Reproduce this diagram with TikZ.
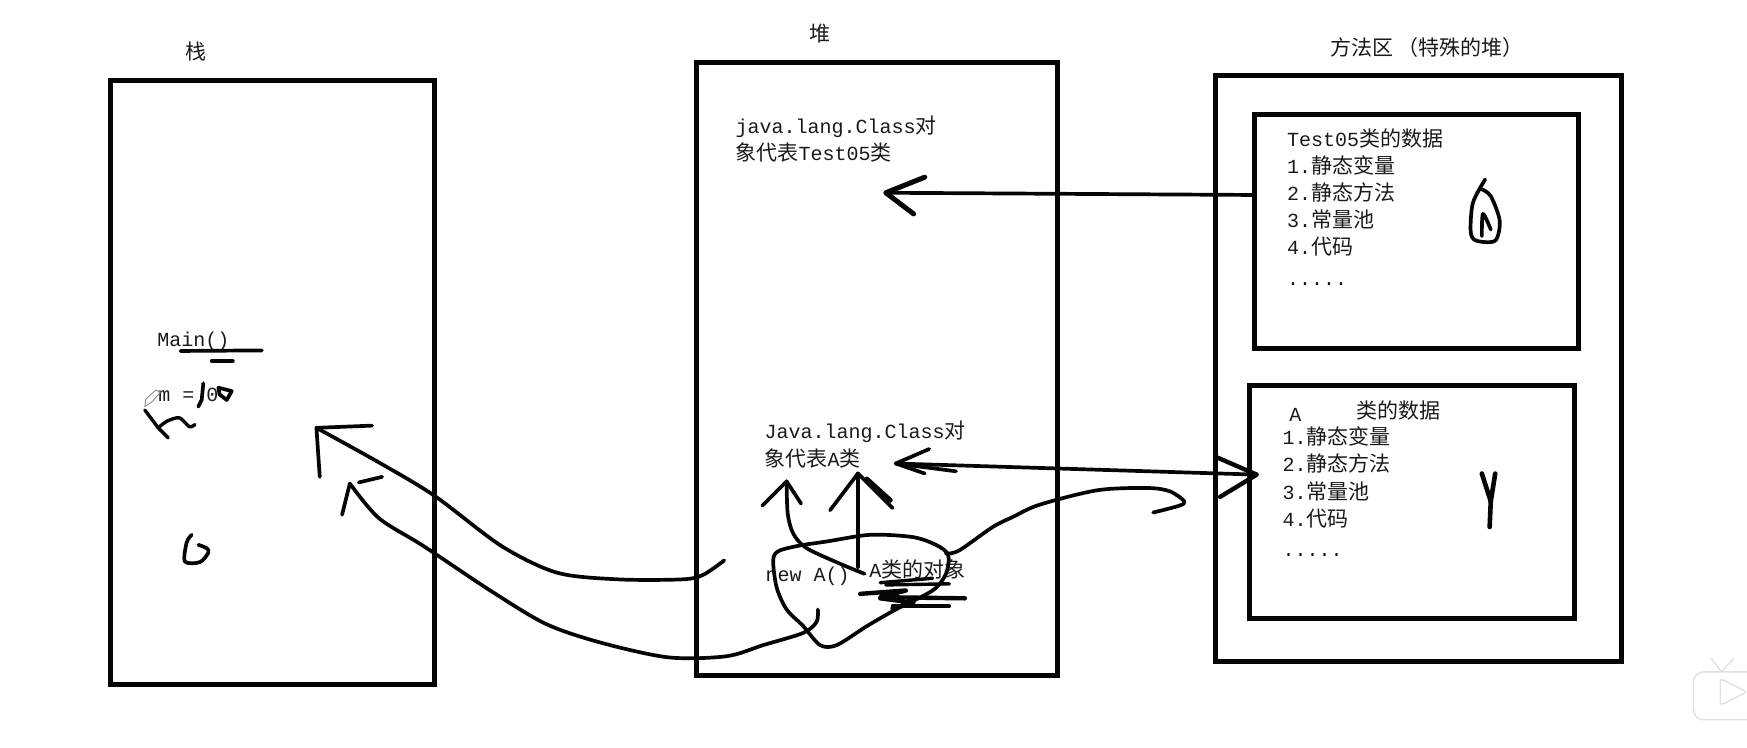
\documentclass[tikz,border=0pt]{standalone}
\usepackage{fontspec}
\usepackage{xcolor}
\usetikzlibrary{positioning}
\setmainfont{Liberation Mono}
\newfontfamily\cjk[Scale=1.05]{Noto Sans CJK SC}
\newcommand{\cn}[1]{{\cjk #1}}
\definecolor{inkblack}{HTML}{050505}
\definecolor{textblack}{HTML}{1A1A1A}

\begin{document}
\begin{tikzpicture}[
        x=1.1142pt,
        y=-1.1142pt,
        membox/.style={
            draw=inkblack,
            line width=5pt,
            outer sep=0pt,
            inner sep=0pt
        },
        memtext/.style={
            text=textblack,
            inner sep=0pt,
            align=left,
            font=\fontsize{20}{27.2}\selectfont
        },
        ink/.style={
            draw=inkblack,
            line width=3.7pt,
            line cap=round,
            line join=round
        },
        inkfine/.style={
            ink,
            line width=3.4pt
        }
    ]

    \useasboundingbox (0,0) rectangle (1568,671.34);
    \clip (0,0) rectangle (1568,671.34);

    % memory areas
    \node[membox, minimum width=324pt, minimum height=604pt] (stackbox) at (244.5,343) {};
    \node[membox, minimum width=361pt, minimum height=613pt] (heapbox) at (787,331) {};
    \node[membox, minimum width=406pt, minimum height=586pt] (methodbox) at (1273.5,331) {};
    \node[membox, minimum width=324pt, minimum height=234pt] (testdata) at (1271.5,207.5) {};
    \node[membox, minimum width=325pt, minimum height=233pt] (adata) at (1267,450.5) {};

    \node[memtext, above=19pt of stackbox.north, xshift=-76pt] (stacktitle) {\cn{栈}};
    \node[memtext, above=19pt of heapbox.north, xshift=-57pt] (heaptitle) {\cn{堆}};
    \node[memtext, above=18pt of methodbox.north, xshift=8pt] (methodtitle) {\cn{方法区 （特殊的堆）}};

    % text inside the heap
    \node[memtext, anchor=north west] (testclass) at (660,104) {java.lang.Class\cn{对}\\\cn{象代表}Test05\cn{类}};
    \node[memtext, anchor=north west] (aclass) at (686,378) {Java.lang.Class\cn{对}\\\cn{象代表}A\cn{类}};
    \node[memtext, anchor=west] (newa) at (687,517) {new A()};
    \node[memtext, anchor=west] (aobject) at (780,511) {A\cn{类的对象}};

    % text inside the stack
    \node[memtext, anchor=west] (mainframe) at (141,306) {Main()};
    \node[memtext, anchor=west] (mvalue) at (142,354) {m = 0};

    % text inside the method area
    \node[memtext, anchor=north west] (testlist) at (1155,115) {Test05\cn{类的数据}\\1.\cn{静态变量}\\2.\cn{静态方法}\\3.\cn{常量池}\\4.\cn{代码}\\[3pt].....};
    \node[memtext, anchor=west] (aname) at (1157,372) {A};
    \node[memtext, anchor=west] (atitle) at (1217,368) {\cn{类的数据}};
    \node[memtext, anchor=north west] (alist) at (1151,383) {1.\cn{静态变量}\\2.\cn{静态方法}\\3.\cn{常量池}\\4.\cn{代码}\\[3pt].....};

    \coordinate (testout) at (1126,175);
    \coordinate (testhead) at (795,173);
    \coordinate (aleft) at (804,416);
    \coordinate (aright) at (1128,426);
    \coordinate (stackhead) at (284,384);
    \coordinate (lowhead) at (314,434);
    \coordinate (newhead) at (706,432);
    \coordinate (objhead) at (770,425);
    \coordinate (objfoot) at (770,509);
    \coordinate (objend) at (776,515);
    \coordinate (classend) at (650,503);
    \coordinate (loopend) at (734,547);

    % arrow to the Class object of Test05
    \draw[ink] (testout) -- (testhead);
    \draw[ink, line width=5pt] (830,159) -- (testhead) -- (820,192);

    % arrow between A class data and its Class object
    \draw[ink] (aleft) -- (aright);
    \draw[ink] (834,403) -- (aleft) -- (830,425);
    \draw[ink] (aleft) -- (858,423);
    \draw[ink, line width=4.4pt] (1091,410) -- (aright) -- (1095,446);

    % arrows back to the stack
    \draw[ink] plot[smooth] coordinates {(classend) (631,516) (612,520) (555,520) (500,514) (450,490) (390,445) (340,415) (stackhead)};
    \draw[ink] (334,382) -- (stackhead) -- (287,428);
    \draw[ink] plot[smooth] coordinates {(loopend) (733,558) (721,568) (685,579) (652,589) (600,590) (540,577) (490,560) (440,530) (380,490) (340,465) (lowhead)};
    \draw[ink] (lowhead) -- (307,462);
    \draw[ink] (322,433) -- (343,428);

    % arrows from the new object up to the Class object
    \draw[ink] plot[smooth] coordinates {(objend) (754,506) (724,492) (712,479) (707,461) (newhead)};
    \draw[ink] (684,454) -- (newhead) -- (719,452);
    \draw[ink] (objfoot) -- (objhead);
    \draw[ink] (745,458) -- (objhead) -- (801,456);
    \draw[ink, line width=5pt] (778,430) -- (799,449);

    % loop round the object, running on to the method area
    \draw[ink] plot[smooth] coordinates {(721,489) (700,494) (694,502) (697,527) (706,547) (721,562) (736,579) (751,579) (778,562) (804,547) (837,530) (849,515) (851,498) (840,489) (819,482) (781,480) (742,486) (721,489)};
    \draw[ink] plot[smooth] coordinates {(849,497) (861,494) (891,473) (909,464) (933,453) (985,440) (1030,438) (1050,441) (1063,450) (1058,454) (1035,460)};

    % marks under the object
    \draw[inkfine] (790,523) -- (837,519);
    \draw[inkfine] (795,525) -- (852,524);
    \draw[inkfine, line width=4.4pt] (772,533) -- (813,530) -- (790,536) -- (866,537);
    \draw[inkfine] (801,544) -- (852,544);
    \draw[inkfine, line width=4.4pt] (790,537) -- (820,541) -- (801,546);

    % marks in the stack
    \draw[ink] (162,315) -- (235,314.5);
    \draw[ink] (190,324) -- (209,324);
    \draw[ink] (182.5,344) -- (181,359) -- (178,365);
    \draw[ink] (196,348) -- (208,351) -- (203.5,359) -- (197,354) -- cycle;
    \draw[inkfine] (130,368) -- (142,384) -- (151,393);
    \draw[inkfine] plot[smooth] coordinates {(142,384) (150,378) (161,375) (170,383) (175,381)};
    \draw[ink] plot[smooth] coordinates {(172,480) (167.5,487) (166,504) (179.5,504.5) (187,496) (185.5,492) (178,489)};
    \draw[gray, line width=0.8pt, line join=round] (130,365) -- (131,358) -- (140,350) -- (144,352) -- (136,361) -- cycle;

    % marks in the data boxes
    \draw[ink] plot[smooth] coordinates {(1333,161) (1322,182) (1320,208) (1325,216) (1342,216) (1346,198) (1338,176) (1330,170)};
    \draw[ink] plot[smooth] coordinates {(1330,212) (1331,192) (1338,206)};
    \draw[ink, line width=4.6pt] (1330,425) -- (1338,450) -- (1337,473);
    \draw[ink, line width=4.6pt] (1342,425) -- (1338,450);

    % player badge in the corner
    \draw[black!12, line width=1.4pt, fill=white, rounded corners=10pt] (1520,603) rectangle (1590,646);
    \draw[black!12, line width=1.4pt, line cap=round] (1536,591) -- (1545,603) -- (1556,591);
    \draw[black!12, line width=1.4pt, fill=white, rounded corners=3pt] (1544,609) -- (1568,621) -- (1544,633) -- cycle;

\end{tikzpicture}
\end{document}
